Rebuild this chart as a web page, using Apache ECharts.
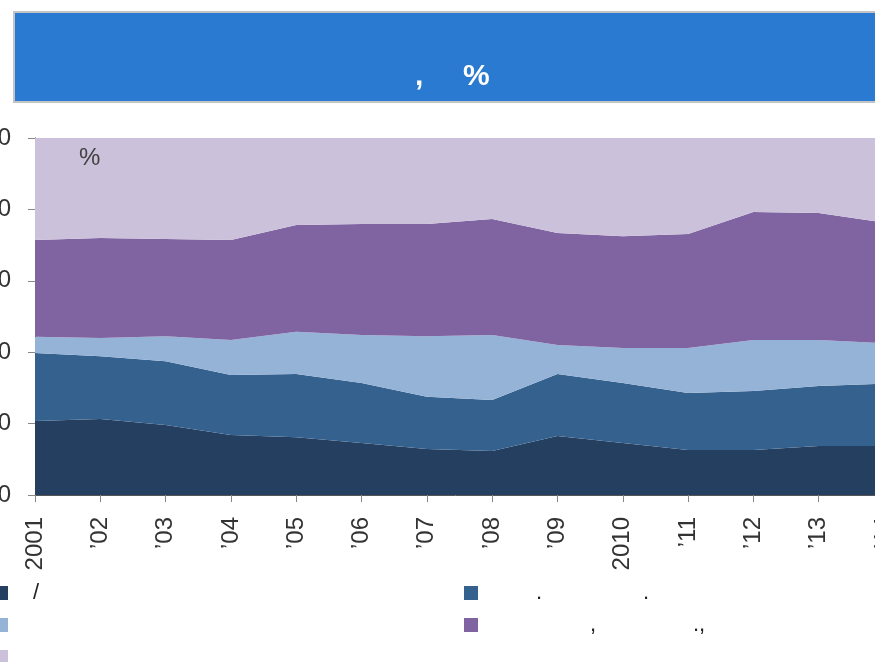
<!DOCTYPE html>
<html><head><meta charset="utf-8">
<script src="https://cdn.jsdelivr.net/npm/echarts@6/dist/echarts.min.js"></script>
<style>html,body{margin:0;padding:0;background:#fff}#c{width:875px;height:662px}</style>
</head><body><div id="c"></div>
<script>
const categories = ['2001','’02','’03','’04','’05','’06','’07','’08','’09','2010','’11','’12','’13','’14'];
const yTicks = [0,20,40,60,80,100];
const seriesNames = ['s1','s2','s3','s4','s5'];
const s1 = [20.7,21.3,19.6,16.8,16.2,14.6,12.9,12.3,16.5,14.6,12.6,12.6,13.7,13.7];
const s2 = [19.1,17.6,17.9,16.8,17.7,16.8,14.6,14.3,17.4,16.8,16.0,16.5,16.8,17.5];
const s3 = [4.5,5.1,7.0,9.8,11.8,13.4,17.0,18.2,8.1,9.8,12.6,14.3,12.9,11.3];
const s4 = [27.1,28.0,27.2,28.0,29.9,31.1,31.4,32.5,31.4,31.3,31.9,35.9,35.6,33.8];
const s5 = [28.6,28.0,28.3,28.6,24.4,24.1,24.1,22.7,26.6,27.5,26.9,20.7,21.0,23.7];
const colors = ['#253f60','#35618f','#95b3d7','#8064a2','#ccc1da'];
const titleParts = [',', '%'];
const unitText = '%';
const legendTexts = [['/'], ['.', '.'], [], [',', '.,'], []];

const chart = echarts.init(document.getElementById('c'), null, {renderer:'canvas'});
const data = [s1,s2,s3,s4,s5];
const legendPos = [[-6,586],[464,586],[-6,618],[464,618],[-6,650]];
const legendTextX = [[33],[536,643],[],[590,693],[]];
const graphics = [
  {type:'rect', shape:{x:14, y:12, width:900, height:90}, style:{fill:'#2a7ad2', stroke:'#c4c4c4', lineWidth:2}, z:10},
  {type:'text', left:415, top:62, style:{text:titleParts[0], fill:'#fff', font:'bold 30px Liberation Sans, Arial'}, z:11},
  {type:'text', left:463, top:62, style:{text:titleParts[1], fill:'#fff', font:'bold 30px Liberation Sans, Arial'}, z:11},
  {type:'text', left:79, top:146, style:{text:unitText, fill:'#404040', font:'24px Liberation Sans, Arial'}, z:11}
];
legendTexts.forEach((arr,i)=>arr.forEach((t,j)=>{
  graphics.push({type:'text', left:legendTextX[i][j], top:legendPos[i][1]-4, style:{text:t, fill:'#222', font:'22px Liberation Sans, Arial'}, z:11});
}));
const option = {
  backgroundColor:'#fff',
  animation:false,
  grid:{left:35, top:138, bottom:167, right:-9, outerBoundsMode:'none', containLabel:false},
  xAxis:{type:'category', data:categories, boundaryGap:false,
    axisLine:{show:true, lineStyle:{color:'#555', width:1}},
    axisTick:{show:true, alignWithLabel:true, length:7, lineStyle:{color:'#888'}},
    axisLabel:{rotate:90, fontSize:24, color:'#333', margin:22, fontFamily:'Liberation Sans, Arial', interval:0},
    splitLine:{show:false}},
  yAxis:{type:'value', min:0, max:100, interval:20,
    axisLine:{show:true, lineStyle:{color:'#333', width:1}},
    axisTick:{show:true, length:7, lineStyle:{color:'#888'}},
    axisLabel:{fontSize:24, color:'#333', margin:24, fontFamily:'Liberation Sans, Arial'},
    splitLine:{show:false}},
  legend: seriesNames.map((n,i)=>({data:[n], left:legendPos[i][0], top:legendPos[i][1], padding:0,
     itemWidth:14, itemHeight:14, icon:'rect', formatter:()=>'', selectedMode:false})),
  series: seriesNames.map((n,i)=>({name:n, type:'line', stack:'total', data:data[i], symbol:'none',
     lineStyle:{width:0}, areaStyle:{color:colors[i], opacity:1}, itemStyle:{color:colors[i]}})),
  graphic: graphics
};
chart.setOption(option);
</script></body></html>
